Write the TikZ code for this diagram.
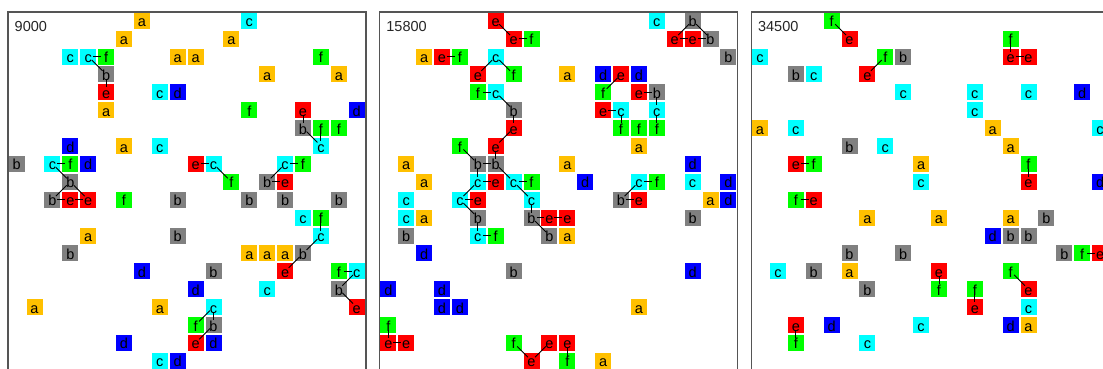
\documentclass[tikz,border=0pt]{standalone}
\usepackage{fontspec}
\setmainfont{Liberation Sans}
\definecolor{ca}{RGB}{255,192,0}
\definecolor{cb}{RGB}{128,128,128}
\definecolor{cc}{RGB}{0,255,255}
\definecolor{cd}{RGB}{0,0,255}
\definecolor{ce}{RGB}{255,0,0}
\definecolor{cf}{RGB}{0,255,0}
\definecolor{framegray}{RGB}{85,85,85}
\begin{document}
\begin{tikzpicture}[x=1pt,y=-1pt,
  cell/.style={fill=c#1, minimum size=16pt, inner sep=0pt, text height=12pt, text depth=0pt, font=\fontsize{14.5}{14.5}\selectfont, text=black},
  link/.style={draw=black, line width=0.9pt, shorten <=5pt, shorten >=5pt},
  frame/.style={draw=framegray, line width=1.3pt},
  lbl/.style={anchor=base west, inner sep=0pt, font=\fontsize{14.5}{14.5}\selectfont, text=black!85}]
\useasboundingbox (0,0) rectangle (1103,368);
\clip (0,0) rectangle (1103,368);
\fill[white] (0,0) rectangle (1103,368);
% panel frames
\draw[frame] (8,12) rectangle (366,380);
\draw[frame] (379.7,12) rectangle (737.7,380);
\draw[frame] (751.4,12) rectangle (1109.4,380);
% labels
\node[lbl] (L1) at (14.5,31.5) {9000};
\node[lbl] (L2) at (386.2,31.5) {15800};
\node[lbl] (L3) at (757.9,31.5) {34500};
% panel 1
\foreach \mc/\mr/\ml in {7/0/a,13/0/c,6/1/a,12/1/a,3/2/c,4/2/c,5/2/f,9/2/a,10/2/a,17/2/f,5/3/b,14/3/a,18/3/a,5/4/e,8/4/c,9/4/d,5/5/a,13/5/f,16/5/e,19/5/d,16/6/b,17/6/f,18/6/f,3/7/d,6/7/a,8/7/c,17/7/c,0/8/b,2/8/c,3/8/f,4/8/d,10/8/e,11/8/c,15/8/c,16/8/f,3/9/b,12/9/f,14/9/b,15/9/e,2/10/b,3/10/e,4/10/e,6/10/f,9/10/b,13/10/b,15/10/b,18/10/b,16/11/c,17/11/f,4/12/a,9/12/b,17/12/c,3/13/b,13/13/a,14/13/a,15/13/a,16/13/b,7/14/d,11/14/b,15/14/e,18/14/f,19/14/c,10/15/d,14/15/c,18/15/b,1/16/a,8/16/a,11/16/c,19/16/e,10/17/f,11/17/b,6/18/d,10/18/e,11/18/d,8/19/c,9/19/d}
  \node[cell=\ml] (P1-\mc-\mr) at ({8.6+17.9*\mc+8},{12.7+17.9*\mr+8}) {\ml};
% panel 2
\foreach \mc/\mr/\ml in {6/0/e,15/0/c,17/0/b,7/1/e,8/1/f,16/1/e,17/1/e,18/1/b,2/2/a,3/2/e,4/2/f,6/2/c,19/2/b,5/3/e,7/3/f,10/3/a,12/3/d,13/3/e,14/3/d,5/4/f,6/4/c,12/4/f,14/4/e,15/4/b,7/5/b,12/5/e,13/5/c,15/5/c,7/6/e,13/6/f,14/6/f,15/6/f,4/7/f,6/7/e,14/7/a,1/8/a,5/8/b,6/8/b,10/8/a,17/8/d,2/9/a,5/9/c,6/9/e,7/9/c,8/9/f,11/9/d,14/9/c,15/9/f,17/9/c,19/9/d,1/10/c,4/10/c,5/10/e,8/10/c,13/10/b,14/10/e,18/10/a,19/10/d,1/11/c,2/11/a,5/11/b,8/11/b,9/11/e,10/11/e,17/11/b,1/12/b,5/12/c,6/12/f,9/12/b,10/12/a,2/13/d,7/14/b,17/14/d,0/15/d,3/15/d,3/16/d,4/16/d,14/16/a,0/17/f,0/18/e,1/18/e,7/18/f,9/18/e,10/18/e,8/19/e,10/19/f,12/19/a}
  \node[cell=\ml] (P2-\mc-\mr) at ({380.3+17.9*\mc+8},{12.7+17.9*\mr+8}) {\ml};
% panel 3
\foreach \mc/\mr/\ml in {4/0/f,5/1/e,14/1/f,0/2/c,7/2/f,8/2/b,14/2/e,15/2/e,2/3/b,3/3/c,6/3/e,8/4/c,12/4/c,15/4/c,18/4/d,12/5/c,0/6/a,2/6/c,13/6/a,19/6/c,5/7/b,7/7/c,14/7/a,2/8/e,3/8/f,9/8/a,15/8/f,9/9/c,15/9/e,19/9/d,2/10/f,3/10/e,6/11/a,10/11/a,14/11/a,16/11/b,13/12/d,14/12/b,15/12/b,5/13/b,8/13/b,17/13/b,18/13/f,19/13/e,1/14/c,3/14/b,5/14/a,10/14/e,14/14/f,6/15/b,10/15/f,12/15/f,15/15/e,12/16/e,15/16/c,2/17/e,4/17/d,9/17/c,14/17/d,15/17/a,2/18/f,6/18/c}
  \node[cell=\ml] (P3-\mc-\mr) at ({752.0+17.9*\mc+8},{12.7+17.9*\mr+8}) {\ml};
% links
\foreach \p/\q in {4-2/5-2,4-2/5-3,5-3/5-4,16-5/16-6,16-6/17-7,17-6/17-7,2-8/3-8,2-8/3-9,3-9/2-10,3-9/4-10,2-10/3-10,3-10/4-10,10-8/11-8,11-8/12-9,15-8/16-8,15-8/14-9,14-9/15-9,17-11/17-12,17-12/16-13,16-13/15-14,18-14/19-14,19-14/18-15,18-15/19-16,11-16/10-17,11-16/11-17,11-17/10-18}
  \draw[link] (P1-\p.center) -- (P1-\q.center);
\foreach \p/\q in {6-0/7-1,7-1/8-1,17-0/16-1,17-0/18-1,16-1/17-1,17-1/18-1,3-2/4-2,6-2/5-3,6-2/7-3,5-4/6-4,6-4/7-5,7-5/7-6,7-6/6-7,6-7/6-8,4-7/5-8,5-8/6-8,5-8/5-9,6-8/7-9,7-9/8-9,5-9/6-9,5-9/4-10,4-10/5-10,4-10/5-11,5-11/5-12,5-12/6-12,7-9/8-10,8-10/8-11,8-11/9-11,9-11/10-11,8-11/9-12,13-3/12-4,14-4/15-4,15-4/15-5,15-5/15-6,12-5/13-5,13-5/13-6,14-9/15-9,14-9/13-10,13-10/14-10,0-17/0-18,0-18/1-18,7-18/8-19,9-18/8-19,10-18/10-19}
  \draw[link] (P2-\p.center) -- (P2-\q.center);
\foreach \p/\q in {4-0/5-1,14-1/14-2,14-2/15-2,7-2/6-3,2-8/3-8,15-8/15-9,2-10/3-10,18-13/19-13,10-14/10-15,14-14/15-15,12-15/12-16,2-17/2-18}
  \draw[link] (P3-\p.center) -- (P3-\q.center);
\end{tikzpicture}
\end{document}
